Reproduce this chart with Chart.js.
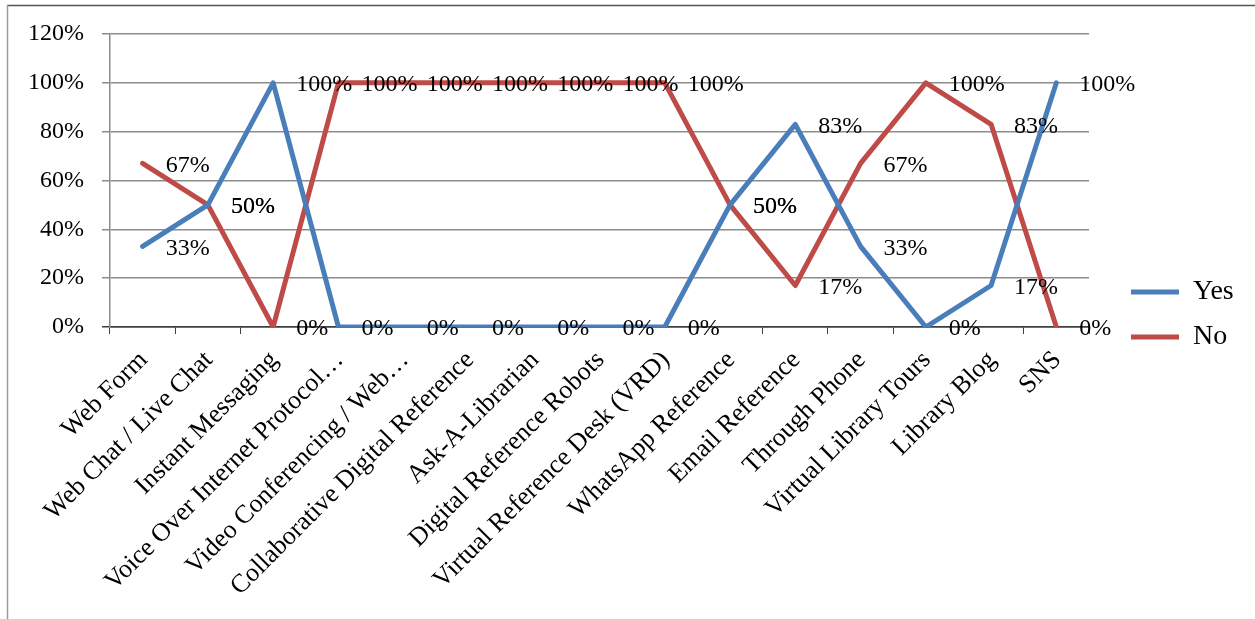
<!DOCTYPE html>
<html>
<head>
<meta charset="utf-8">
<title>Reference services: Yes / No</title>
<script src="https://cdn.jsdelivr.net/npm/chart.js@4/dist/chart.umd.min.js"></script>
<style>
  html, body { margin: 0; padding: 0; background: #ffffff; overflow: hidden; }
  #wrap { position: relative; width: 1255px; height: 619px; }
  canvas { display: block; }
</style>
</head>
<body>
<div id="wrap"><canvas id="chart" width="1255" height="619"></canvas></div>
<script>
// Services surveyed (x axis)
const categories = [
  'Web Form',
  'Web Chat / Live Chat',
  'Instant Messaging',
  'Voice Over Internet Protocol\u2026',
  'Video Conferencing / Web\u2026',
  'Collaborative Digital Reference',
  'Ask-A-Librarian',
  'Digital Reference Robots',
  'Virtual Reference Desk (VRD)',
  'WhatsApp Reference',
  'Email Reference',
  'Through Phone',
  'Virtual Library Tours',
  'Library Blog',
  'SNS'
];

// Share of respondents, in percent
const yesValues = [33, 50, 100, 0, 0, 0, 0, 0, 0, 50, 83, 33, 0, 17, 100];
const noValues  = [67, 50, 0, 100, 100, 100, 100, 100, 100, 50, 17, 67, 100, 83, 0];

// Y axis ticks (percent)
const yTicks = [0, 20, 40, 60, 80, 100, 120];

const seriesNames = ['Yes', 'No'];

const FONT = '"Liberation Serif", "Times New Roman", serif';
const BLUE = '#4A7EBB';
const RED = '#BE4B48';
const GRID = '#8c8c8c';
const AXIS = '#3f3f3f';

// Percent labels placed to the right of each point
const pointLabels = {
  id: 'pointLabels',
  afterDatasetsDraw(chart) {
    const ctx = chart.ctx;
    ctx.save();
    ctx.font = '24px ' + FONT;
    ctx.fillStyle = '#000000';
    ctx.textAlign = 'left';
    ctx.textBaseline = 'middle';
    chart.data.datasets.forEach((ds, di) => {
      chart.getDatasetMeta(di).data.forEach((pt, i) => {
        ctx.fillText(ds.data[i] + '%', pt.x + 23, pt.y + 2);
      });
    });
    ctx.restore();
  }
};

// Fixed-width legend column on the right, items nudged into place
const legendPlacement = {
  id: 'legendPlacement',
  beforeLayout(chart) {
    const lg = chart.legend;
    if (lg && !lg.__fixedWidth) {
      const fit = lg.fit;
      lg.fit = function () { fit.call(this); this.width = 166; };
      lg.__fixedWidth = true;
    }
  },
  afterLayout(chart) {
    const lg = chart.legend;
    if (!lg) return;
    const dx = 1131 - (lg.left + lg.options.labels.padding);
    const dy = -12;
    lg.left += dx; lg.right += dx;
    lg.top += dy; lg.bottom += dy;
  }
};

// Thin frame along the top and left edges
const frame = {
  id: 'frame',
  beforeDraw(chart) {
    const ctx = chart.ctx;
    ctx.save();
    ctx.fillStyle = '#ffffff';
    ctx.fillRect(0, 0, chart.width, chart.height);
    ctx.lineWidth = 1.5;
    ctx.strokeStyle = '#555555';
    ctx.beginPath();
    ctx.moveTo(7, 5.5);
    ctx.lineTo(chart.width, 5.5);
    ctx.stroke();
    ctx.strokeStyle = '#9a9a9a';
    ctx.beginPath();
    ctx.moveTo(7.5, 5);
    ctx.lineTo(7.5, chart.height);
    ctx.stroke();
    ctx.restore();
  }
};

const colors = [BLUE, RED];
const series = [yesValues, noValues];

new Chart(document.getElementById('chart'), {
  type: 'line',
  data: {
    labels: categories,
    datasets: seriesNames.map((name, i) => ({
      label: name,
      data: series[i],
      borderColor: colors[i],
      backgroundColor: colors[i],
      borderWidth: 5,
      borderJoinStyle: 'round',
      borderCapStyle: 'round',
      pointRadius: 0,
      pointHoverRadius: 0,
      tension: 0,
      fill: false
    }))
  },
  options: {
    responsive: false,
    devicePixelRatio: 1,
    animation: false,
    events: [],
    layout: { padding: { top: 34, left: 0, right: 0, bottom: 0 } },
    scales: {
      x: {
        type: 'category',
        offset: true,
        grid: {
          offset: true,
          drawOnChartArea: false,
          drawTicks: true,
          tickLength: 7,
          color: AXIS,
          lineWidth: 1
        },
        border: { color: AXIS, width: 1.5 },
        ticks: {
          autoSkip: false,
          maxRotation: 45,
          minRotation: 45,
          padding: 11,
          labelOffset: 1,
          color: '#000000',
          font: { family: FONT, size: 26 }
        },
        afterFit(scale) { scale.height = 292; }
      },
      y: {
        min: yTicks[0],
        max: yTicks[yTicks.length - 1],
        afterBuildTicks(scale) { scale.ticks = yTicks.map(v => ({ value: v })); },
        grid: {
          color: ctx => (ctx.tick && ctx.tick.value === 0 ? AXIS : GRID),
          lineWidth: 1.5,
          tickLength: 8,
          drawTicks: true
        },
        border: { color: GRID, width: 1.5 },
        ticks: {
          padding: 18,
          color: '#000000',
          font: { family: FONT, size: 24 },
          callback: v => v + '%'
        },
        afterFit(scale) { scale.width = 110; }
      }
    },
    plugins: {
      legend: {
        position: 'right',
        align: 'center',
        labels: {
          usePointStyle: true,
          pointStyle: 'line',
          pointStyleWidth: 48,
          padding: 17,
          color: '#000000',
          font: { family: FONT, size: 28 }
        }
      },
      tooltip: { enabled: false },
      title: { display: false }
    }
  },
  plugins: [frame, pointLabels, legendPlacement]
});
</script>
</body>
</html>
